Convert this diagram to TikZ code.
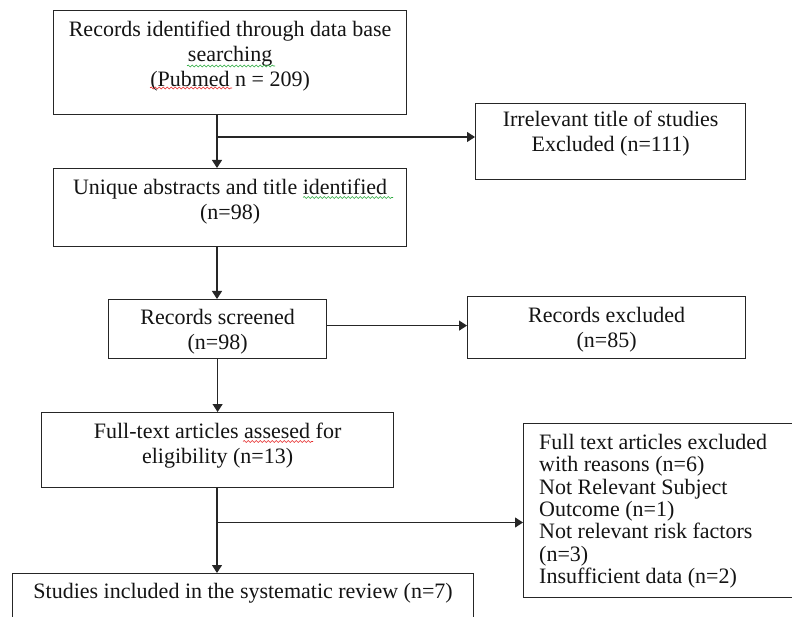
\documentclass[tikz,border=0pt]{standalone}
\usepackage{fontspec}
\setmainfont{Liberation Serif}
\usetikzlibrary{arrows.meta,calc,decorations.pathmorphing}
\definecolor{sqred}{RGB}{230,40,40}
\definecolor{sqgreen}{RGB}{40,170,60}
\begin{document}
\begin{tikzpicture}[x=1pt,y=-1pt,
  box/.style={draw=black!85, line width=1.2pt, rectangle, inner sep=0pt, anchor=north west},
  txt/.style={font=\fontsize{22}{25}\selectfont, align=center, inner sep=0pt, text=black!92},
  ltxt/.style={font=\fontsize{22}{22.4}\selectfont, align=left, inner sep=0pt, text=black!92},
  arr/.style={draw=black!85, line width=1.1pt, -{Triangle[length=8pt,width=10pt]}},
  squig/.style={line width=0.6pt, decorate, decoration={snake, segment length=4pt, amplitude=1pt}}]
\useasboundingbox (0,0) rectangle (792,617);
\fill[white] (0,0) rectangle (792,617);

\node[box, minimum width=353pt, minimum height=104pt,
  label={[txt,anchor=north,yshift=-8.5pt]north:{\strut Records identified through data base\\searching\\(Pubmed n = 209)}}] (A) at (53,10) {};
\node[box, minimum width=270pt, minimum height=76pt,
  label={[txt,anchor=north,yshift=-5.5pt]north:{\strut Irrelevant title of studies\\Excluded (n=111)}}] (C) at (475,103) {};
\node[box, minimum width=353pt, minimum height=78pt,
  label={[txt,anchor=north,yshift=-8.5pt]north:{\strut Unique abstracts and title identified\\(n=98)}}] (B) at (53,168) {};
\node[box, minimum width=218pt, minimum height=59pt,
  label={[txt,anchor=north,yshift=-7.5pt]north:{\strut Records screened\\(n=98)}}] (D) at (108,299) {};
\node[box, minimum width=278pt, minimum height=62pt,
  label={[txt,anchor=north,yshift=-8.5pt]north:{\strut Records excluded\\(n=85)}}] (E) at (467,296) {};
\node[box, minimum width=352pt, minimum height=75pt,
  label={[txt,anchor=north,yshift=-8.5pt]north:{\strut Full-text articles assesed for\\eligibility (n=13)}}] (F) at (41,412) {};
\node[box, minimum width=275pt, minimum height=174pt,
  label={[ltxt,anchor=north west,xshift=16pt,yshift=-10.5pt]north west:{\strut Full text articles excluded\\with reasons (n=6)\\Not Relevant Subject\\Outcome (n=1)\\Not relevant risk factors\\(n=3)\\Insufficient data (n=2)}}] (G) at (523,423) {};
\node[box, minimum width=461pt, minimum height=70pt,
  label={[txt,anchor=north,yshift=-7.5pt]north:{\strut Studies included in the systematic review (n=7)}}] (H) at (12,573) {};

% spell-check squiggles
\draw[squig, sqgreen] (187,66) -- (275,66);
\draw[squig, sqred] (150,88) -- (232,88);
\draw[squig, sqgreen] (303,197.5) -- (393,197.5);
\draw[squig, sqred] (243,441.5) -- (313,441.5);

\coordinate (vx) at (217,0);
\coordinate (j1) at (217,137);
\coordinate (j3) at (217,522.5);

\draw[arr] (A.south -| vx) -- (B.north -| vx);
\draw[arr] (j1) -- (j1 -| C.west);
\draw[arr] (B.south -| vx) -- (D.north -| vx);
\draw[arr] ([yshift=3.5pt]D.east) -- ([yshift=3.5pt]D.east -| E.west);
\draw[arr] (D.south) -- (D.south |- F.north);
\draw[arr] (F.south -| vx) -- (H.north -| vx);
\draw[arr] (j3) -- (j3 -| G.west);
\end{tikzpicture}
\end{document}
